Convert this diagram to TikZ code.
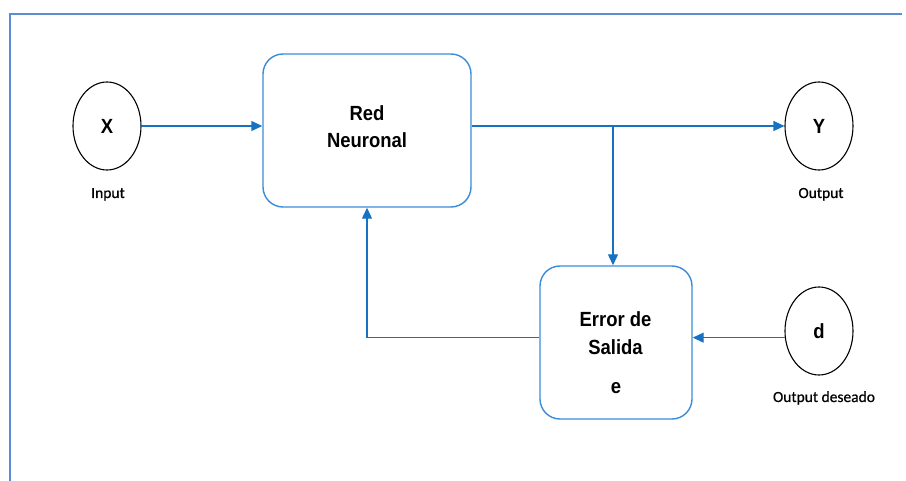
\documentclass[tikz,border=0pt]{standalone}
\usepackage{fontspec}
\usetikzlibrary{shapes.geometric,arrows.meta}
\newfontfamily\boxfont[FakeStretch=0.9]{Liberation Sans}
\newfontfamily\lblfont[FakeBold=0.6]{Carlito}
\definecolor{framecol}{HTML}{5B8CD4}
\definecolor{boxcol}{HTML}{3A8CD8}
\definecolor{linecol}{HTML}{1872C4}
\tikzset{
  frameline/.style={draw=framecol, line width=2pt},
  block/.style={draw=boxcol, line width=1.4pt, rounded corners=20pt, rectangle, inner sep=0pt},
  signal/.style={draw, ellipse, line width=1.1pt, minimum width=68pt, minimum height=88pt, inner sep=0pt,
                 font=\boxfont\bfseries\fontsize{20.5}{24}\selectfont},
  boxtext/.style={inner sep=0pt, align=center, font=\boxfont\bfseries\fontsize{20.5}{27.5}\selectfont},
  caption/.style={inner sep=0pt, anchor=base, font=\lblfont\fontsize{15.5}{18}\selectfont},
  flow/.style={draw=linecol, line width=1.2pt, -{Triangle[length=11pt,width=10pt]}},
}
\begin{document}
\begin{tikzpicture}[x=1pt, y=-1pt]
  \useasboundingbox (0,0) rectangle (906,481);
  % page frame (left and top edges)
  \coordinate (fbl) at (10,481);
  \coordinate (ftl) at (10,14);
  \coordinate (ftr) at (902,14);
  \draw[frameline] (fbl) -- (ftl) -- (ftr);

  % blocks
  \node[block, minimum width=208pt, minimum height=153pt] (rn) at (367,130.5) {};
  \node[block, minimum width=152pt, minimum height=153pt] (err) at (616,342.5) {};
  \node[boxtext] (rnt) at (367,126.5) {Red\\Neuronal};
  \node[boxtext] (errt) at (615.5,333) {Error de\\Salida};
  \node[boxtext, anchor=base] (errs) at (616,394) {e};

  % signals
  \node[signal] (X) at (107,126) {X};
  \node[signal] (Y) at (819,126) {Y};
  \node[signal] (d) at (819,331) {d};
  \node[caption] (xin) at (108,198) {Input};
  \node[caption] (yout) at (821,198) {Output};
  \node[caption] (dout) at (824,402) {Output deseado};

  % connections
  \coordinate (br) at (X.east -| 613,0);
  \coordinate (dp) at (d.191.6);
  \coordinate (fb) at (dp -| err.west);
  \draw[flow] (X.east) -- (X.east -| rn.west);
  \draw[flow] (X.east -| rn.east) -- (Y.west);
  \draw[flow] (br) -- (br |- err.north);
  \draw[flow] (dp) -- (dp -| err.east);
  \draw[flow] (fb) -| (rn.south);
\end{tikzpicture}
\end{document}
